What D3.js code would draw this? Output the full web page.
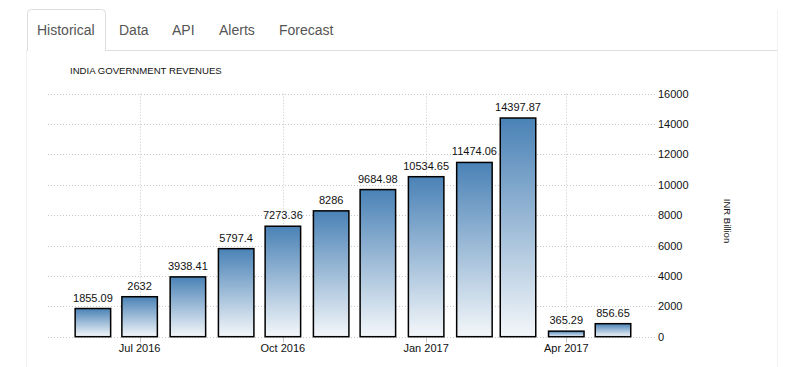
<!DOCTYPE html>
<html>
<head>
<meta charset="utf-8">
<script src="https://cdn.jsdelivr.net/npm/d3@7"></script>
<style>
  body { margin: 0; background: #fff; }
  svg text { font-family: "Liberation Sans", Arial, sans-serif; }
</style>
</head>
<body>
<svg id="chart" width="787" height="367"></svg>
<script>
// data
var months = ["2016-06","2016-07","2016-08","2016-09","2016-10","2016-11","2016-12","2017-01","2017-02","2017-03","2017-04","2017-05"]
var revenues = [1855.09, 2632, 3938.41, 5797.4, 7273.36, 8286, 9684.98, 10534.65, 11474.06, 14397.87, 365.29, 856.65]
var tabs = ["Historical","Data","API","Alerts","Forecast"]
var tabX = [37, 119, 172, 219, 279]
var yTicks = [0,2000,4000,6000,8000,10000,12000,14000,16000]
var xTickMonths = ["2016-07","2016-10","2017-01","2017-04"]

var parse = d3.utcParse("%Y-%m")
var fmtTick = d3.utcFormat("%b %Y")

var svg = d3.select("#chart")

// page frame / tabs
svg.append("line").attr("x1",26.5).attr("x2",26.5).attr("y1",50).attr("y2",367)
  .attr("stroke","#f2f2f2")
svg.append("line").attr("x1",777.5).attr("x2",777.5).attr("y1",10).attr("y2",367)
  .attr("stroke","#f2f2f2")
svg.append("line").attr("x1",27).attr("x2",777).attr("y1",50.5).attr("y2",50.5)
  .attr("stroke","#ddd")
svg.append("path")
  .attr("d","M27.5,51 V13.5 Q27.5,9.5 31.5,9.5 H101.5 Q105.5,9.5 105.5,13.5 V51")
  .attr("fill","#fff").attr("stroke","#ddd")
svg.selectAll(".tab").data(tabs).enter().append("text")
  .attr("class","tab")
  .attr("x",function(d,i){return tabX[i]})
  .attr("y",34.5)
  .attr("font-size","14px")
  .attr("fill","#555")
  .text(function(d){return d})

svg.append("text").attr("x",70).attr("y",74)
  .attr("font-size","9.6px").attr("fill","#111")
  .text("INDIA GOVERNMENT REVENUES")

// scales
var plotL = 48, plotR = 655, plotT = 93.7, plotB = 336.7
var x = d3.scaleUtc()
  .domain([parse("2016-06"), parse("2017-05")])
  .range([92.9, 613])
var y = d3.scaleLinear().domain([0,16000]).range([plotB, plotT])
var barW = 35.5

var defs = svg.append("defs")
var grad = defs.append("linearGradient").attr("id","barGrad")
  .attr("x1",0).attr("y1",0).attr("x2",0).attr("y2",1)
grad.append("stop").attr("offset","0%").attr("stop-color","#4a82b6")
grad.append("stop").attr("offset","100%").attr("stop-color","#f4f7fa")

// grid
svg.selectAll(".hgrid").data(yTicks).enter().append("line")
  .attr("x1",plotL).attr("x2",plotR)
  .attr("y1",function(d){return Math.round(y(d))+0.5})
  .attr("y2",function(d){return Math.round(y(d))+0.5})
  .attr("stroke","#c8c8c8").attr("stroke-dasharray","1,2")
var xt = xTickMonths.map(parse)
svg.selectAll(".vgrid").data(xt).enter().append("line")
  .attr("x1",function(d){return Math.round(x(d))+0.5})
  .attr("x2",function(d){return Math.round(x(d))+0.5})
  .attr("y1",plotT).attr("y2",plotB)
  .attr("stroke","#c8c8c8").attr("stroke-dasharray","1,2")
svg.selectAll(".xtick").data(xt).enter().append("line")
  .attr("x1",function(d){return Math.round(x(d))+0.5})
  .attr("x2",function(d){return Math.round(x(d))+0.5})
  .attr("y1",plotB).attr("y2",plotB+6)
  .attr("stroke","#c8c8c8")

// y axis labels
svg.selectAll(".ylab").data(yTicks).enter().append("text")
  .attr("x",658).attr("y",function(d){return y(d)+4})
  .attr("font-size","11px").attr("fill","#111")
  .text(function(d){return d})

// x axis labels
svg.selectAll(".xlab").data(xt).enter().append("text")
  .attr("x",function(d){return x(d)}).attr("y",352)
  .attr("text-anchor","middle")
  .attr("font-size","11px").attr("fill","#111")
  .text(fmtTick)

svg.append("text")
  .attr("transform","translate(724,221) rotate(90)")
  .attr("text-anchor","middle")
  .attr("font-size","9.5px").attr("fill","#111")
  .text("INR Billion")

// bars
var data = months.map(function(m,i){return {date: parse(m), v: revenues[i]}})
svg.selectAll(".bar").data(data).enter().append("rect")
  .attr("x",function(d){return x(d.date)-barW/2})
  .attr("y",function(d){return y(d.v)})
  .attr("width",barW)
  .attr("height",function(d){return plotB - y(d.v)})
  .attr("fill","url(#barGrad)")
  .attr("stroke","#000").attr("stroke-width",1.5)

svg.selectAll(".val").data(data).enter().append("text")
  .attr("x",function(d){return x(d.date)})
  .attr("y",function(d){return y(d.v)-7})
  .attr("text-anchor","middle")
  .attr("font-size","11px").attr("fill","#111")
  .text(function(d){return d.v})
</script>
</body>
</html>
